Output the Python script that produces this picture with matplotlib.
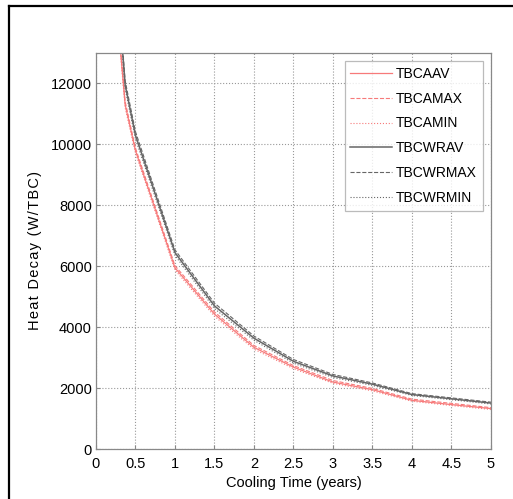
import matplotlib
matplotlib.use("Agg")
import matplotlib.pyplot as plt
from matplotlib.lines import Line2D

plt.rcParams['font.family'] = ['Liberation Sans', 'DejaVu Sans']

# cooling time (years)
t = [0.3, 0.37, 0.5, 1, 1.5, 2, 2.5, 3, 3.5, 4, 4.5, 5]

# heat decay (W/TBC)
tbcaav = [13400, 11300, 9800, 5950, 4430, 3340, 2690, 2200, 1950, 1600, 1460, 1330]
tbcamax = [13500, 11400, 9880, 6020, 4500, 3400, 2740, 2250, 1990, 1640, 1500, 1360]
tbcamin = [13300, 11200, 9720, 5880, 4360, 3280, 2640, 2160, 1910, 1570, 1430, 1300]
tbcwrav = [14300, 11950, 10300, 6450, 4700, 3640, 2880, 2400, 2130, 1790, 1650, 1510]
tbcwrmax = [14450, 12080, 10420, 6540, 4790, 3710, 2940, 2450, 2170, 1820, 1680, 1540]
tbcwrmin = [14150, 11820, 10180, 6360, 4610, 3570, 2820, 2350, 2090, 1760, 1620, 1480]

xticks = [0, 0.5, 1, 1.5, 2, 2.5, 3, 3.5, 4, 4.5, 5]
xticklabels = ['0', '0.5', '1', '1.5', '2', '2.5', '3', '3.5', '4', '4.5', '5']
yticks = [0, 2000, 4000, 6000, 8000, 10000, 12000]

fig = plt.figure(figsize=(5.13, 4.99), dpi=100)
ax = fig.add_axes([0.187, 0.100, 0.770, 0.794])

red = '#f77a7a'
gry = '#666666'
ax.plot(t, tbcaav, '-', color=red, lw=0.9, label='TBCAAV')
ax.plot(t, tbcamax, '--', color=red, lw=0.8, label='TBCAMAX')
ax.plot(t, tbcamin, ':', color=red, lw=0.8, label='TBCAMIN')
ax.plot(t, tbcwrav, '-', color=gry, lw=1.1, label='TBCWRAV')
ax.plot(t, tbcwrmax, '--', color=gry, lw=0.8, label='TBCWRMAX')
ax.plot(t, tbcwrmin, ':', color=gry, lw=0.8, label='TBCWRMIN')

ax.set_xlim(0, 5)
ax.set_ylim(0, 13000)
ax.set_xticks(xticks)
ax.set_xticklabels(xticklabels)
ax.set_yticks(yticks)
ax.grid(True, linestyle=':', color='#999999', lw=0.8)
ax.tick_params(direction='in', length=3, labelsize=10.5, color='#888888', pad=3)
ax.tick_params(axis='x', pad=6)
for s in ax.spines.values():
    s.set_color('#888888')
    s.set_linewidth(0.9)

ax.set_xlabel('Cooling Time (years)', fontsize=10.5, labelpad=3)
ax.set_ylabel('\u200a'.join('Heat Decay (W/TBC)'), fontsize=10.5, labelpad=6)

leg = ax.legend(loc='upper right', fontsize=10, frameon=True, fancybox=False,
                edgecolor='#aaaaaa', handlelength=3.0, labelspacing=0.78,
                borderaxespad=0.6, handletextpad=0.3)
leg.get_frame().set_linewidth(0.9)

# border of the figure (left and top only)
fig.add_artist(Line2D([8.5 / 513, 8.5 / 513], [0, 1 - 6 / 499], color='black', lw=1.6))
fig.add_artist(Line2D([8.5 / 513, 1], [1 - 6 / 499, 1 - 6 / 499], color='black', lw=1.6))

fig.savefig('out.png', dpi=100)
